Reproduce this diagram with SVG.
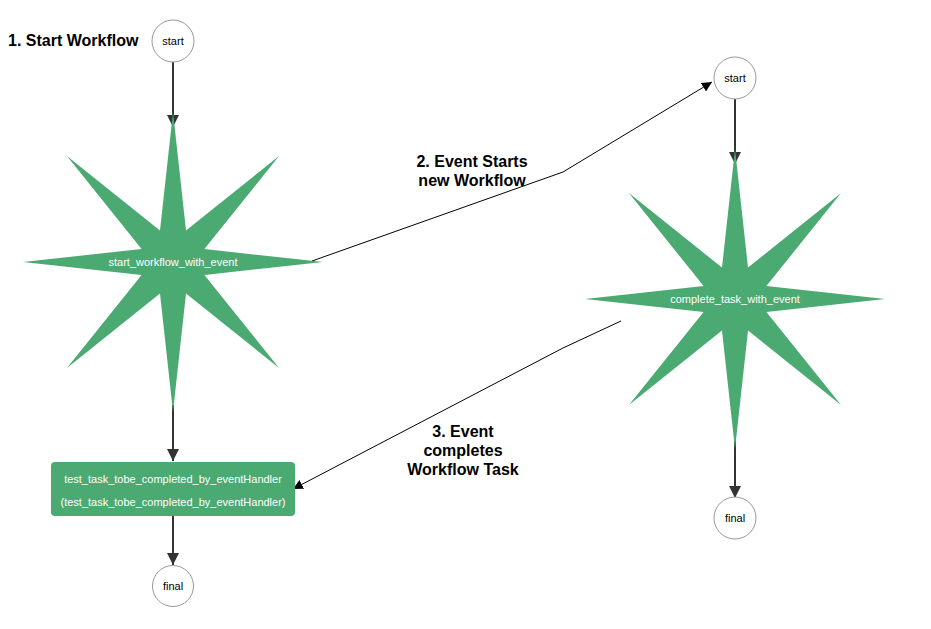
<svg xmlns="http://www.w3.org/2000/svg" xmlns:xlink="http://www.w3.org/1999/xlink" width="931" height="629" viewBox="0 0 931 629">
<style>
.circle{fill:#fff;stroke:#999;stroke-width:1}
.ctext{font-family:"Liberation Sans",Arial,sans-serif;font-size:11px;fill:#000;text-anchor:middle}
.wtext{font-family:"Liberation Sans",Arial,sans-serif;font-size:11px;fill:#fff}
.label{font-family:"Liberation Sans",Arial,sans-serif;font-size:16px;font-weight:bold;fill:#000;text-anchor:middle}
.label.left{text-anchor:start}
.star{fill:#4aaa72}
.flow{stroke:#333;stroke-width:2;fill:none}
.event{stroke:#000;stroke-width:1;fill:none}
</style>
<defs>
<polygon id="star" points="0,-150 13.01,-31.41 106.07,-106.07 31.41,-13.01 150,0 31.41,13.01 106.07,106.07 13.01,31.41 0,150 -13.01,31.41 -106.07,106.07 -31.41,13.01 -150,0 -31.41,-13.01 -106.07,-106.07 -13.01,-31.41"/>
<marker id="thick" markerUnits="userSpaceOnUse" markerWidth="12" markerHeight="12" refX="10" refY="5" viewBox="0 0 10 10" orient="auto">
<path d="M0,0 L10,5 L0,10 z" fill="#333"/>
</marker>
<marker id="thin" markerUnits="userSpaceOnUse" markerWidth="10" markerHeight="10" refX="10" refY="5" viewBox="0 0 10 10" orient="auto">
<path d="M0,0 L10,5 L0,10 z" fill="#000"/>
</marker>
</defs>
<rect width="931" height="629" fill="#fff"/>
<g id="connectors">
<line class="flow" x1="173" y1="62" x2="173" y2="127" marker-end="url(#thick)"/>
<line class="flow" x1="173" y1="405" x2="173" y2="461" marker-end="url(#thick)"/>
<line class="flow" x1="173" y1="516" x2="173" y2="565" marker-end="url(#thick)"/>
<line class="flow" x1="735" y1="99" x2="735" y2="164" marker-end="url(#thick)"/>
<line class="flow" x1="735" y1="440" x2="735" y2="498" marker-end="url(#thick)"/>
<polyline class="event" points="312,261 563,172 712,82" marker-end="url(#thin)"/>
<polyline class="event" points="621,321 563,348 293,489" marker-end="url(#thin)"/>
</g>
<g id="star1">
<use xlink:href="#star" href="#star" class="star" x="173" y="262"/>
<text class="wtext" x="173" y="266" text-anchor="middle">start_workflow_with_event</text>
</g>
<g id="star2">
<use xlink:href="#star" href="#star" class="star" x="735" y="299"/>
<text class="wtext" x="735" y="303" text-anchor="middle">complete_task_with_event</text>
</g>
<g id="start1">
<circle class="circle" cx="173" cy="41" r="21"/>
<text class="ctext" x="173" y="45">start</text>
</g>
<g id="start2">
<circle class="circle" cx="735" cy="78" r="21"/>
<text class="ctext" x="735" y="82">start</text>
</g>
<g id="task">
<rect x="51" y="462" width="244" height="54" rx="4" fill="#4aaa72"/>
<text class="wtext" x="173" y="483" text-anchor="middle">test_task_tobe_completed_by_eventHandler</text>
<text class="wtext" x="173" y="506" text-anchor="middle">(test_task_tobe_completed_by_eventHandler)</text>
</g>
<g id="final1">
<circle class="circle" cx="173" cy="586" r="20.5"/>
<text class="ctext" x="173" y="590">final</text>
</g>
<g id="final2">
<circle class="circle" cx="735" cy="518" r="21"/>
<text class="ctext" x="735" y="522">final</text>
</g>
<g id="labels">
<text class="label left" x="8" y="46">1. Start Workflow</text>
<text class="label" x="472" y="167">2. Event Starts</text>
<text class="label" x="472" y="186">new Workflow</text>
<text class="label" x="463" y="437">3. Event</text>
<text class="label" x="463" y="456">completes</text>
<text class="label" x="463" y="475">Workflow Task</text>
</g>
</svg>
